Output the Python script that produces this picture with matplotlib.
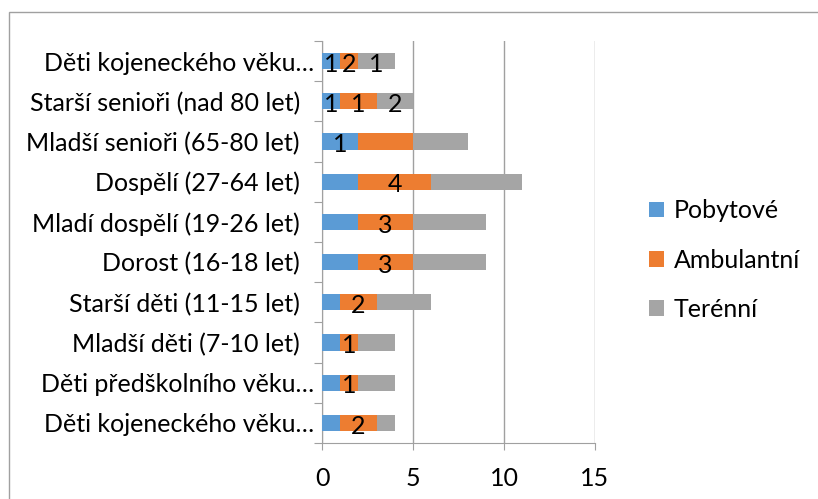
import numpy as np
import matplotlib.pyplot as plt
from matplotlib.patches import Rectangle
from matplotlib.transforms import ScaledTranslation

plt.rcParams['font.family'] = ['Lato', 'DejaVu Sans']

# categories, bottom to top
categories = ['Děti kojeneckého věku…', 'Děti předškolního věku…', 'Mladší děti (7-10 let)',
              'Starší děti (11-15 let)', 'Dorost (16-18 let)', 'Mladí dospělí (19-26 let)',
              'Dospělí (27-64 let)', 'Mladší senioři (65-80 let)', 'Starší senioři (nad 80 let)',
              'Děti kojeneckého věku…']
pobytove = [1, 1, 1, 1, 2, 2, 2, 2, 1, 1]
ambulantni = [2, 1, 1, 2, 3, 3, 4, 3, 2, 1]
terenni = [1, 2, 2, 3, 4, 4, 5, 3, 2, 2]
series_names = ['Pobytové', 'Ambulantní', 'Terénní']
colors = ['#5B9BD5', '#ED7D31', '#A5A5A5']

# data labels shown on the chart (None = no label)
lab_pob = [None, None, None, None, None, None, None, 1, 1, 1]
lab_amb = [2, 1, 1, 2, 3, 3, 4, None, 1, 2]
lab_ter = [None, None, None, None, None, None, None, None, 2, 1]

fig = plt.figure(figsize=(8.18, 4.99), dpi=100)
ax = fig.add_axes([322/818, 1-443/499, (595-322)/818, 402/499])

y = np.arange(len(categories))
series = [pobytove, ambulantni, terenni]
labels = [lab_pob, lab_amb, lab_ter]
left = np.zeros(len(categories))
for vals, labs, name, c in zip(series, labels, series_names, colors):
    vals = np.array(vals, dtype=float)
    ax.barh(y, vals, left=left, height=0.4, color=c, label=name, zorder=3)
    for i, lab in enumerate(labs):
        if lab is not None:
            ax.text(left[i] + vals[i]/2, y[i] - 0.08, str(lab), ha='center', va='center',
                    fontsize=18, color='black', zorder=4)
    left += vals

gray = '#A0A0A0'
ax.set_xlim(0, 15)
ax.set_ylim(-0.5, len(categories) - 0.5)
ax.set_xticks([0, 5, 10, 15])
ax.tick_params(axis='x', labelsize=18, length=5, color=gray, pad=12)
ax.set_yticks(np.arange(-0.5, len(categories), 1))
ax.set_yticklabels([])
ax.tick_params(axis='y', which='major', length=6, color=gray)
ax.set_yticks(y, minor=True)
ax.set_yticklabels(categories, minor=True, fontsize=18)
ax.tick_params(axis='y', which='minor', length=0, pad=16)
for lbl in ax.get_yticklabels(minor=True):
    if lbl.get_text().endswith('…'):
        lbl.set_transform(lbl.get_transform() + ScaledTranslation(0.14, 0, fig.dpi_scale_trans))
ax.grid(axis='x', color=gray, linewidth=1, zorder=0)
for s in ['top', 'right']:
    ax.spines[s].set_visible(False)
for s in ['left', 'bottom']:
    ax.spines[s].set_color(gray)

fig.legend(loc='center left', bbox_to_anchor=(649/818, 1-260/499), frameon=False,
           fontsize=18, handlelength=0.6, handleheight=0.6, labelspacing=1.05,
           handletextpad=0.4, borderaxespad=0, borderpad=0)

fig.patches.append(Rectangle((9/818, -0.1), 1.0, 1 - 12/499 + 0.1, transform=fig.transFigure,
                             fill=False, edgecolor=gray, linewidth=1))

fig.savefig('out.png', dpi=100)
